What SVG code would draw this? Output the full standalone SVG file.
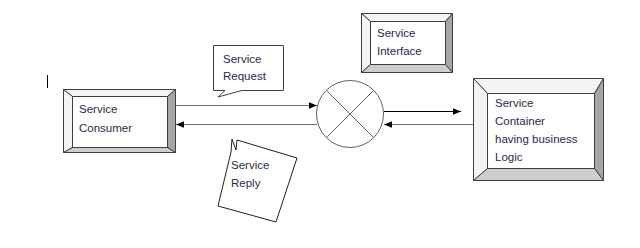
<svg xmlns="http://www.w3.org/2000/svg" width="640" height="248" viewBox="0 0 640 248">
<style>
.t{font-family:"Liberation Sans",Arial,sans-serif;font-size:11.5px;fill:#2a2a48}
.ol{stroke:#404040;stroke-width:1;stroke-linejoin:miter}
.lt{fill:#f4f4f4}
.rt{fill:#a6a6a6}
.bt{fill:#cdcdcd}
.in{fill:#ffffff}
.cn{stroke:#707070;stroke-width:1;fill:none}
</style>
<defs>
<marker id="ah" viewBox="0 0 10 10" refX="10" refY="5" markerWidth="8" markerHeight="8" markerUnits="userSpaceOnUse" orient="auto">
<path d="M0,1 L10,5 L0,9 Z" fill="#000"/>
</marker>
</defs>
<rect width="640" height="248" fill="#fff"/>
<line x1="47.5" y1="75" x2="47.5" y2="88" stroke="#000" stroke-width="1"/>

<g id="consumer">
<polygon class="lt ol" points="63.5,89.5 175.5,89.5 167.5,96.5 72.5,96.5"/>
<polygon class="lt ol" points="63.5,89.5 72.5,96.5 72.5,147.5 63.5,152.5"/>
<polygon class="rt ol" points="175.5,89.5 175.5,152.5 167.5,147.5 167.5,96.5"/>
<polygon class="bt ol" points="63.5,152.5 72.5,147.5 167.5,147.5 175.5,152.5"/>
<rect class="in ol" x="72.5" y="96.5" width="95" height="51"/>
<text class="t" x="79" y="113">Service</text>
<text class="t" x="79" y="132">Consumer</text>
</g>

<g id="interface">
<polygon class="lt ol" points="361.5,13.5 452.5,13.5 445.5,21.5 370.5,21.5"/>
<polygon class="lt ol" points="361.5,13.5 370.5,21.5 370.5,64.5 361.5,72.5"/>
<polygon class="rt ol" points="452.5,13.5 452.5,72.5 445.5,64.5 445.5,21.5"/>
<polygon class="bt ol" points="361.5,72.5 370.5,64.5 445.5,64.5 452.5,72.5"/>
<rect class="in ol" x="370.5" y="21.5" width="75" height="43"/>
<text class="t" x="377" y="37">Service</text>
<text class="t" x="377" y="55">Interface</text>
</g>

<g id="container">
<polygon class="lt ol" points="473.5,78.5 603.5,78.5 594.5,93.5 487.5,93.5"/>
<polygon class="lt ol" points="473.5,78.5 487.5,93.5 487.5,168.5 473.5,180.5"/>
<polygon class="rt ol" points="603.5,78.5 603.5,180.5 594.5,168.5 594.5,93.5"/>
<polygon class="bt ol" points="473.5,180.5 487.5,168.5 594.5,168.5 603.5,180.5"/>
<rect class="in ol" x="487.5" y="93.5" width="107" height="75"/>
<text class="t" x="495" y="107">Service</text>
<text class="t" x="495" y="125">Container</text>
<text class="t" x="495" y="143">having business</text>
<text class="t" x="495" y="161">Logic</text>
</g>

<g id="router">
<circle cx="350" cy="114" r="33.5" fill="#fff" stroke="#606060" stroke-width="1"/>
<line x1="326.5" y1="90.5" x2="373.5" y2="137.5" stroke="#606060"/>
<line x1="373.5" y1="90.5" x2="326.5" y2="137.5" stroke="#606060"/>
</g>

<g id="request">
<path d="M213.5,45.5 H283.5 V90.5 H242 L218,97 L225,90.5 H213.5 Z" fill="#fff" stroke="#404040"/>
<text class="t" x="223" y="63">Service</text>
<text class="t" x="223" y="80">Request</text>
</g>

<g id="reply">
<path d="M231,152 L232,139 L236,150 L237,140 L297,158 L276,222 L218,206 Z" fill="#fff" stroke="#202020"/>
<text class="t" x="231" y="169">Service</text>
<text class="t" x="231" y="187">Reply</text>
</g>

<g id="connectors">
<line class="cn" x1="176" y1="105.5" x2="317" y2="105.5" marker-end="url(#ah)"/>
<line class="cn" x1="317" y1="124.5" x2="176" y2="124.5" marker-end="url(#ah)"/>
<line x1="384" y1="111.5" x2="461" y2="111.5" stroke="#000" stroke-width="1.2" marker-end="url(#ah)"/>
<line class="cn" x1="473" y1="124.5" x2="384" y2="124.5" marker-end="url(#ah)"/>
</g>
</svg>
